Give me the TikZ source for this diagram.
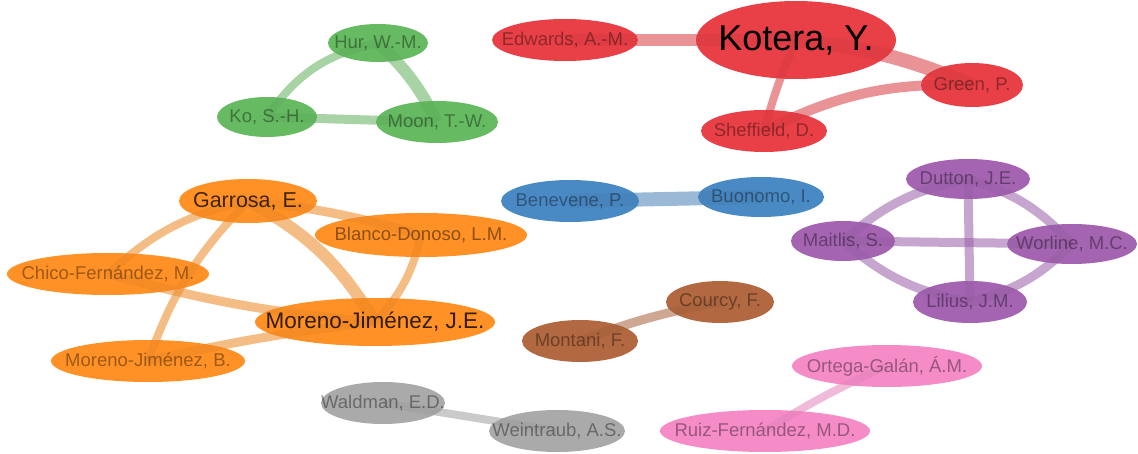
\documentclass[tikz,border=0pt]{standalone}
\usepackage{fontspec}
\setmainfont{Liberation Sans}
\usetikzlibrary{shapes.geometric}
\definecolor{nRed}{RGB}{232,64,70}
\definecolor{nGreen}{RGB}{102,187,98}
\definecolor{nBlue}{RGB}{74,138,196}
\definecolor{nOrange}{RGB}{255,145,38}
\definecolor{nPurple}{RGB}{164,100,178}
\definecolor{nBrown}{RGB}{178,104,64}
\definecolor{nPink}{RGB}{245,140,200}
\definecolor{nGray}{RGB}{170,170,170}
\tikzset{
  nd/.style={ellipse, inner sep=0pt, draw=none},
  lbl/.style={font=\fontsize{18.5}{20}\selectfont, text opacity=0.38, inner sep=0pt},
  ed/.style={line width=#1pt, opacity=0.55, line cap=butt},
}
\begin{document}
\begin{tikzpicture}[x=1pt,y=-1pt]
\useasboundingbox (0,0) rectangle (1138,454);
% nodes
\node[nd, fill=nGreen, minimum width=100pt, minimum height=38pt] (hur) at (378,43) {};
\node[nd, fill=nGreen, minimum width=100pt, minimum height=40pt] (ko) at (267,117) {};
\node[nd, fill=nGreen, minimum width=122pt, minimum height=42pt] (moon) at (437,122) {};
\node[nd, fill=nRed, minimum width=146pt, minimum height=42pt] (edwards) at (565,40) {};
\node[nd, fill=nRed, minimum width=200pt, minimum height=78pt] (kotera) at (796,40) {};
\node[nd, fill=nRed, minimum width=102pt, minimum height=44pt] (green) at (972,85) {};
\node[nd, fill=nRed, minimum width=126pt, minimum height=42pt] (sheffield) at (764,131) {};
\node[nd, fill=nBlue, minimum width=138pt, minimum height=42pt] (benevene) at (570,201) {};
\node[nd, fill=nBlue, minimum width=126pt, minimum height=40pt] (buonomo) at (761,197) {};
\node[nd, fill=nPurple, minimum width=124pt, minimum height=40pt] (dutton) at (968,179) {};
\node[nd, fill=nPurple, minimum width=104pt, minimum height=40pt] (maitlis) at (843,241) {};
\node[nd, fill=nPurple, minimum width=130pt, minimum height=40pt] (worline) at (1072,244) {};
\node[nd, fill=nPurple, minimum width=114pt, minimum height=42pt] (lilius) at (970,302) {};
\node[nd, fill=nOrange, minimum width=138pt, minimum height=44pt] (garrosa) at (248,201) {};
\node[nd, fill=nOrange, minimum width=212pt, minimum height=44pt] (blanco) at (421,235) {};
\node[nd, fill=nOrange, minimum width=202pt, minimum height=42pt] (chico) at (108,274) {};
\node[nd, fill=nOrange, minimum width=240pt, minimum height=48pt] (mjje) at (375,322) {};
\node[nd, fill=nOrange, minimum width=194pt, minimum height=42pt] (mjb) at (148,361) {};
\node[nd, fill=nBrown, minimum width=108pt, minimum height=42pt] (courcy) at (720,302) {};
\node[nd, fill=nBrown, minimum width=116pt, minimum height=42pt] (montani) at (580,341) {};
\node[nd, fill=nPink, minimum width=190pt, minimum height=42pt] (ortega) at (887,366) {};
\node[nd, fill=nPink, minimum width=210pt, minimum height=42pt] (ruiz) at (765,431) {};
\node[nd, fill=nGray, minimum width=124pt, minimum height=42pt] (waldman) at (383,403) {};
\node[nd, fill=nGray, minimum width=136pt, minimum height=42pt] (weintraub) at (557,431) {};
% edges
\draw[nGreen!93!black, ed=8] (ko.center) to[bend left=22] (hur.center);
\draw[nGreen!93!black, ed=12] (hur.center) to[bend left=10] (moon.center);
\draw[nGreen!93!black, ed=9] (moon.center) -- (ko.center);
\draw[nRed!93!black, ed=12] (edwards.center) -- (kotera.center);
\draw[nRed!93!black, ed=14] (kotera.center) to[bend left=8] (green.center);
\draw[nRed!93!black, ed=8] (kotera.center) to[bend right=4] (sheffield.center);
\draw[nRed!93!black, ed=10] (sheffield.center) to[bend left=14] (green.center);
\draw[nBlue!93!black, ed=14] (benevene.center) -- (buonomo.center);
\draw[nPurple!93!black, ed=9] (maitlis.center) to[bend left=15] (dutton.center);
\draw[nPurple!93!black, ed=9] (dutton.center) to[bend left=15] (worline.center);
\draw[nPurple!93!black, ed=9] (worline.center) to[bend left=15] (lilius.center);
\draw[nPurple!93!black, ed=9] (lilius.center) to[bend left=15] (maitlis.center);
\draw[nPurple!93!black, ed=9] (maitlis.center) -- (worline.center);
\draw[nPurple!93!black, ed=9] (dutton.center) -- (lilius.center);
\draw[nOrange!93!black, ed=8] (chico.center) to[bend left=15] (garrosa.center);
\draw[nOrange!93!black, ed=12] (garrosa.center) to[bend left=15] (mjje.center);
\draw[nOrange!93!black, ed=9] (garrosa.center) to[bend left=5] (blanco.center);
\draw[nOrange!93!black, ed=8] (mjb.center) to[bend left=12] (garrosa.center);
\draw[nOrange!93!black, ed=8] (blanco.center) to[bend left=15] (mjje.center);
\draw[nOrange!93!black, ed=9] (mjje.center) to[bend left=5] (chico.center);
\draw[nOrange!93!black, ed=9] (mjb.center) to[bend left=3] (mjje.center);
\draw[nBrown!93!black, ed=9] (montani.center) to[bend left=5] (courcy.center);
\draw[nGray!93!black, ed=8] (waldman.center) -- (weintraub.center);
\draw[nPink!93!black, ed=8] (ruiz.center) to[bend left=4] (ortega.center);
% labels
\node[lbl] (t-hur) at (hur) {Hur, W.-M.};
\node[lbl] (t-ko) at (ko) {Ko, S.-H.};
\node[lbl] (t-moon) at (moon) {Moon, T.-W.};
\node[lbl] (t-edwards) at (edwards) {Edwards, A.-M.};
\node[lbl, font=\fontsize{36}{40}\selectfont, text opacity=1] (t-kotera) at (kotera) {Kotera, Y.};
\node[lbl] (t-green) at (green) {Green, P.};
\node[lbl] (t-sheffield) at (sheffield) {Sheffield, D.};
\node[lbl] (t-benevene) at (benevene) {Benevene, P.};
\node[lbl] (t-buonomo) at (buonomo) {Buonomo, I.};
\node[lbl] (t-dutton) at (dutton) {Dutton, J.E.};
\node[lbl] (t-maitlis) at (maitlis) {Maitlis, S.};
\node[lbl] (t-worline) at (worline) {Worline, M.C.};
\node[lbl] (t-lilius) at (lilius) {Lilius, J.M.};
\node[lbl, font=\fontsize{21.5}{24}\selectfont, text opacity=0.75] (t-garrosa) at (garrosa) {Garrosa, E.};
\node[lbl, text opacity=0.45] (t-blanco) at (blanco) {Blanco-Donoso, L.M.};
\node[lbl] (t-chico) at (chico) {Chico-Fernández, M.};
\node[lbl, font=\fontsize{22.5}{25}\selectfont, text opacity=0.8] (t-mjje) at (mjje) {Moreno-Jiménez, J.E.};
\node[lbl] (t-mjb) at (mjb) {Moreno-Jiménez, B.};
\node[lbl] (t-courcy) at (courcy) {Courcy, F.};
\node[lbl] (t-montani) at (montani) {Montani, F.};
\node[lbl] (t-ortega) at (ortega) {Ortega-Galán, Á.M.};
\node[lbl] (t-ruiz) at (ruiz) {Ruiz-Fernández, M.D.};
\node[lbl] (t-waldman) at (waldman) {Waldman, E.D.};
\node[lbl] (t-weintraub) at (weintraub) {Weintraub, A.S.};
\end{tikzpicture}
\end{document}
